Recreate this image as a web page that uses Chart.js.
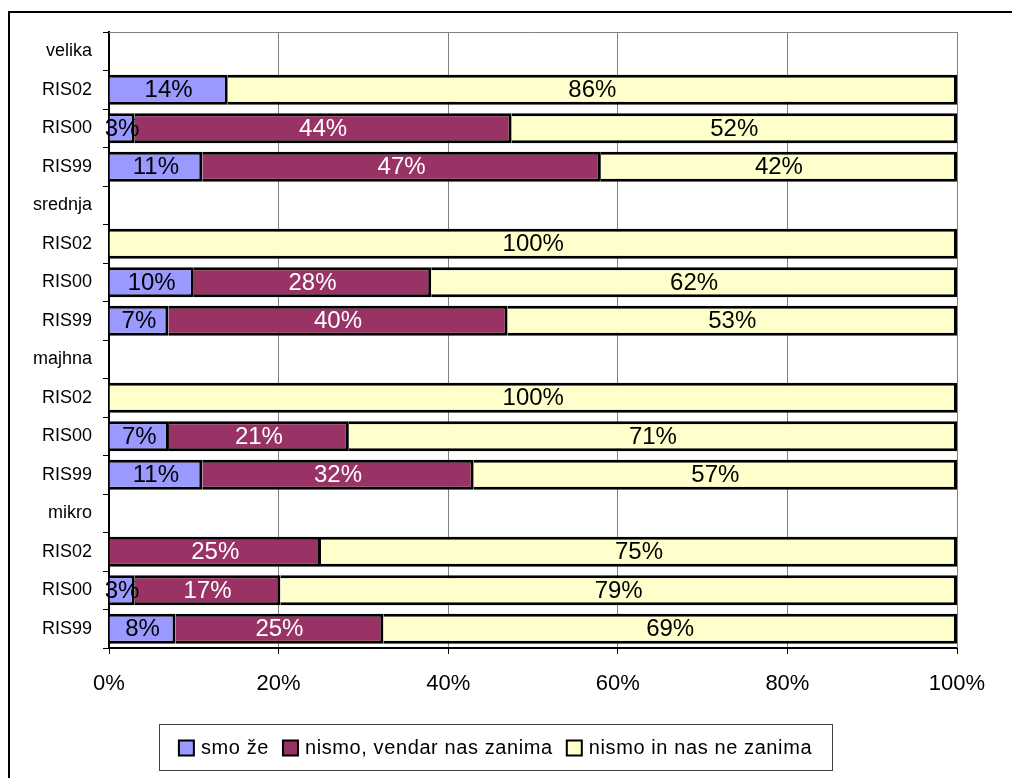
<!DOCTYPE html>
<html>
<head>
<meta charset="utf-8">
<script src="https://cdn.jsdelivr.net/npm/chart.js@4.4.1/dist/chart.umd.min.js"></script>
<style>
  html, body { margin: 0; padding: 0; background: #fff; }
  #wrap { width: 1012px; height: 778px; }
</style>
</head>
<body>
<div id="wrap"><canvas id="chart" width="1012" height="778"></canvas></div>
<script>
// rows top to bottom; group headers carry no bars
const categories = ['velika', 'RIS02', 'RIS00', 'RIS99',
                    'srednja', 'RIS02', 'RIS00', 'RIS99',
                    'majhna', 'RIS02', 'RIS00', 'RIS99',
                    'mikro', 'RIS02', 'RIS00', 'RIS99'];

const seriesNames = ['smo že', 'nismo, vendar nas zanima', 'nismo in nas ne zanima'];

// answer shares in percent as labelled
const smoZe         = [null, 14, 3, 11, null, null, 10, 7, null, null, 7, 11, null, null, 3, 8];
const nismoZanima   = [null, null, 44, 47, null, null, 28, 40, null, null, 21, 32, null, 25, 17, 25];
const nismoNeZanima = [null, 86, 52, 42, null, 100, 62, 53, null, 100, 71, 57, null, 75, 79, 69];

const xTicks = [0, 20, 40, 60, 80, 100];

const fillColors  = ['#9999FF', '#993366', '#FFFFCC'];
const labelColors = ['#000000', '#FFFFFF', '#000000'];

const FONT = '"Liberation Sans", Arial, sans-serif';

// 100% stacked: each row is scaled to its own total
const rows = [smoZe, nismoZanima, nismoNeZanima];
const totals = categories.map((_, i) => rows.reduce((s, r) => s + (r[i] || 0), 0));
const toShare = arr => arr.map((v, i) => v == null ? null : v / totals[i] * 100);

const datasets = rows.map((arr, k) => ({
  label: seriesNames[k],
  data: toShare(arr),
  shown: arr,
  backgroundColor: fillColors[k],
  borderColor: '#000',
  borderWidth: 3,
  borderSkipped: 'start',
  categoryPercentage: 1,
  barPercentage: 0.78
}));

const frame = {
  id: 'frame',
  beforeDraw(chart) {
    const ctx = chart.ctx;
    ctx.save();
    ctx.fillStyle = '#fff';
    ctx.fillRect(0, 0, chart.width, chart.height);
    ctx.strokeStyle = '#000';
    ctx.lineWidth = 2;
    ctx.strokeRect(9, 12, chart.width + 20, chart.height + 20);
    ctx.restore();
  },
  afterDraw(chart) {
    const { ctx, chartArea: a } = chart;
    ctx.save();
    ctx.strokeStyle = '#808080';
    ctx.lineWidth = 1;
    ctx.beginPath();
    ctx.moveTo(a.left, a.top + 0.5);
    ctx.lineTo(a.right + 0.5, a.top + 0.5);
    ctx.lineTo(a.right + 0.5, a.bottom);
    ctx.stroke();
    ctx.restore();
  }
};

const valueLabels = {
  id: 'valueLabels',
  afterDatasetsDraw(chart) {
    const ctx = chart.ctx;
    ctx.save();
    ctx.font = '24px ' + FONT;
    ctx.textAlign = 'center';
    ctx.textBaseline = 'middle';
    chart.data.datasets.forEach((ds, k) => {
      const meta = chart.getDatasetMeta(k);
      meta.data.forEach((bar, i) => {
        const v = ds.shown[i];
        if (v == null) return;
        ctx.fillStyle = labelColors[k];
        ctx.fillText(v + '%', (bar.x + bar.base) / 2, bar.y + 1);
      });
    });
    ctx.restore();
  }
};

const boxLegend = {
  id: 'boxLegend',
  afterDraw(chart) {
    const ctx = chart.ctx;
    const box = { left: 159, top: 724, right: 832, bottom: 770 };
    ctx.save();
    ctx.fillStyle = '#fff';
    ctx.fillRect(box.left, box.top, box.right - box.left, box.bottom - box.top);
    ctx.strokeStyle = '#404040';
    ctx.lineWidth = 1;
    ctx.strokeRect(box.left + 0.5, box.top + 0.5, box.right - box.left, box.bottom - box.top);

    ctx.font = '20px ' + FONT;
    ctx.letterSpacing = '0.6px';
    ctx.textBaseline = 'middle';
    const sw = 15, gapIn = 7, gapOut = 14;
    const widths = chart.data.datasets.map(ds => ctx.measureText(ds.label).width);
    const total = widths.reduce((s, w) => s + sw + gapIn + w, 0) + gapOut * (widths.length - 1);
    let x = (box.left + box.right) / 2 - total / 2;
    const cy = (box.top + box.bottom) / 2 + 1;
    chart.data.datasets.forEach((ds, k) => {
      ctx.fillStyle = ds.backgroundColor;
      ctx.fillRect(x, cy - sw / 2, sw, sw);
      ctx.strokeStyle = '#000';
      ctx.lineWidth = 2;
      ctx.strokeRect(x, cy - sw / 2, sw, sw);
      x += sw + gapIn;
      ctx.fillStyle = '#000';
      ctx.fillText(ds.label, x, cy);
      x += widths[k] + gapOut;
    });
    ctx.restore();
  }
};

new Chart(document.getElementById('chart'), {
  type: 'bar',
  data: { labels: categories, datasets },
  options: {
    indexAxis: 'y',
    responsive: false,
    animation: false,
    layout: { padding: { left: 0, top: 32, right: 55, bottom: 0 } },
    plugins: {
      legend: { display: false },
      tooltip: { enabled: false }
    },
    scales: {
      x: {
        stacked: true,
        min: 0,
        max: 100,
        afterBuildTicks(scale) {
          scale.ticks = xTicks.map(v => ({ value: v }));
        },
        afterFit(scale) { scale.height = 130; },
        grid: {
          color: '#808080',
          tickColor: '#000',
          tickLength: 6,
          lineWidth: 1
        },
        border: { color: '#000', width: 2 },
        ticks: {
          color: '#000',
          padding: 17,
          font: { family: FONT, size: 22 },
          callback: v => v + '%'
        }
      },
      y: {
        stacked: true,
        afterFit(scale) { scale.width = 109; },
        grid: {
          drawOnChartArea: false,
          offset: true,
          tickLength: 6,
          tickColor: '#000'
        },
        border: { color: '#000', width: 2 },
        ticks: {
          color: '#000',
          padding: 11,
          font: { family: FONT, size: 18 }
        }
      }
    }
  },
  plugins: [frame, valueLabels, boxLegend]
});
</script>
</body>
</html>
